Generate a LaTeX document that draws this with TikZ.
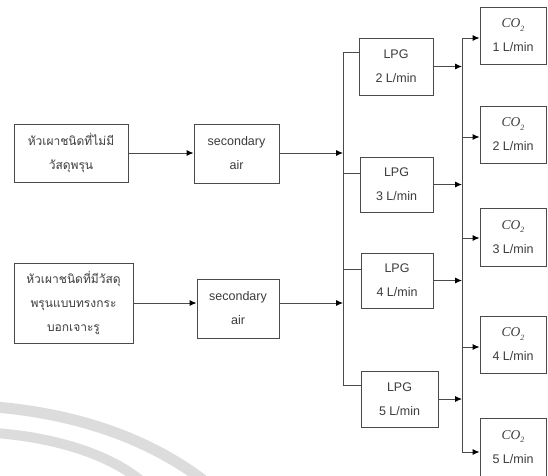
\documentclass[tikz,border=0pt]{standalone}
\usepackage{fontspec}
\setmainfont{Liberation Sans}
\newfontfamily\thaifont[Script=Thai]{Loma}
\newfontfamily\serifit{Liberation Serif}[ItalicFont=* Italic]
\usetikzlibrary{arrows.meta}
\definecolor{ink}{HTML}{3C3C3C}
\definecolor{edge}{HTML}{4A4A4A}
\definecolor{arcgray}{HTML}{DCDCDC}
\newcommand{\cotwo}{{\serifit\itshape\fontsize{13.5}{24}\selectfont CO}\raisebox{-0.5ex}{\serifit\fontsize{8}{8}\selectfont\itshape 2}}
\begin{document}
\begin{tikzpicture}[x=1pt,y=-1pt,
  box/.style={draw=edge,line width=0.9pt,inner sep=0pt,align=center,text=ink,
    font=\fontsize{12.5}{24}\selectfont},
  thbox/.style={box,font=\thaifont\fontsize{12}{24}\selectfont},
  wire/.style={draw=edge,line width=0.9pt},
  flow/.style={wire,-{Latex[length=7pt,width=6pt]},arrows={[color=black]}}]
% canvas
\useasboundingbox (0,0) rectangle (548,475);
\fill[white] (0,0) rectangle (548,475);
% faint arcs in the lower left corner
\draw[draw=arcgray,line width=11pt] (-5,407) .. controls (80,414) and (150,440) .. (203,480);
\draw[draw=arcgray,line width=10pt] (-5,433) .. controls (50,437) and (105,452) .. (140,480);
% burner types
\node[thbox,minimum width=114pt,minimum height=58pt] (L1) at (71,153)
  {หัวเผาชนิดที่ไม่มี\\วัสดุพรุน};
\node[thbox,minimum width=119pt,minimum height=80pt] (L2) at (73.5,303)
  {หัวเผาชนิดที่มีวัสดุ\\พรุนแบบทรงกระ\\บอกเจาะรู};
% secondary air
\node[box,minimum width=85pt,minimum height=59pt] (S1) at (236.5,153.5) {secondary\\air};
\node[box,minimum width=82pt,minimum height=59pt] (S2) at (238,308.5) {secondary\\air};
% LPG flow rates
\node[box,minimum width=74pt,minimum height=57pt] (P2) at (396,66.5) {LPG\\2 L/min};
\node[box,minimum width=73pt,minimum height=55pt] (P3) at (396.5,184.5) {LPG\\3 L/min};
\node[box,minimum width=72pt,minimum height=55pt] (P4) at (397,280.5) {LPG\\4 L/min};
\node[box,minimum width=77pt,minimum height=56pt] (P5) at (399.5,399) {LPG\\5 L/min};
% CO2 flow rates
\node[box,minimum width=66pt,minimum height=57pt] (C1) at (513,35.5) {\cotwo\\1 L/min};
\node[box,minimum width=66pt,minimum height=57pt] (C2) at (513,134.5) {\cotwo\\2 L/min};
\node[box,minimum width=66pt,minimum height=58pt] (C3) at (513,237) {\cotwo\\3 L/min};
\node[box,minimum width=66pt,minimum height=57pt] (C4) at (513,344.5) {\cotwo\\4 L/min};
\node[box,minimum width=66pt,minimum height=58pt] (C5) at (513,447) {\cotwo\\5 L/min};
% bus junctions
\coordinate (a2) at (343,52);
\coordinate (a3) at (343,173);
\coordinate (a4) at (343,269);
\coordinate (a5) at (343,385);
\coordinate (b1) at (462,38);
\coordinate (b2) at (462,137);
\coordinate (b3) at (462,238);
\coordinate (b4) at (462,347);
\coordinate (b5) at (462,452);
% burner -> secondary air -> first bus
\draw[flow] (L1.east) -- (L1.east -| S1.west);
\draw[flow] (L2.east) -- (L2.east -| S2.west);
\draw[flow] (L1.east -| S1.east) -- (L1.east -| a2);
\draw[flow] (L2.east -| S2.east) -- (L2.east -| a2);
% first bus to LPG boxes
\draw[wire] (a2) -- (a5);
\draw[wire] (a2) -- (a2 -| P2.west);
\draw[wire] (a3) -- (a3 -| P3.west);
\draw[wire] (a4) -- (a4 -| P4.west);
\draw[wire] (a5) -- (a5 -| P5.west);
% LPG boxes -> second bus
\draw[flow] (P2.east) -- (P2.east -| b1);
\draw[flow] (P3.east) -- (P3.east -| b1);
\draw[flow] (P4.east) -- (P4.east -| b1);
\draw[flow] (P5.east) -- (P5.east -| b1);
% second bus to CO2 boxes
\draw[wire] (b1) -- (b5);
\draw[flow] (b1) -- (b1 -| C1.west);
\draw[flow] (b2) -- (b2 -| C2.west);
\draw[flow] (b3) -- (b3 -| C3.west);
\draw[flow] (b4) -- (b4 -| C4.west);
\draw[flow] (b5) -- (b5 -| C5.west);
\end{tikzpicture}
\end{document}
